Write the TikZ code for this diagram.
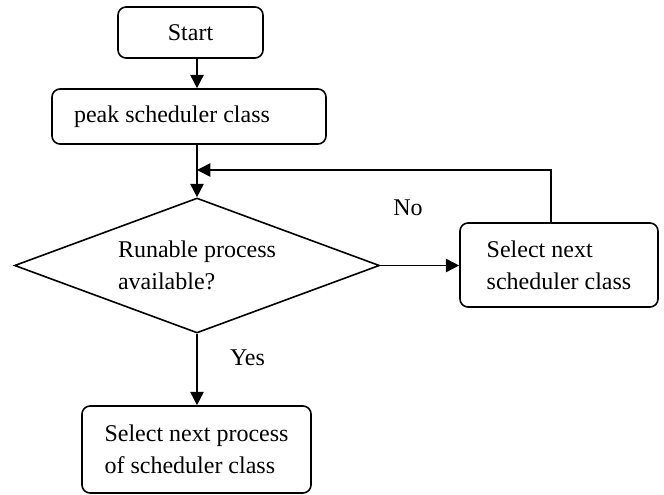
\documentclass[tikz,border=0pt]{standalone}
\usepackage{fontspec}
\setmainfont{Liberation Serif}
\usepackage{tikz}
\usetikzlibrary{
    shapes.geometric,
    arrows.meta,
    calc
}
\tikzset{
    % Base style for all nodes
    flow base/.style={
        font=\fontsize{18}{24}\selectfont,
        draw=black,
        line width=1.2pt,
        inner ysep=0pt,
    },
    % Rounded boxes with centred text
    startbox/.style={
        flow base,
        rectangle,
        rounded corners=6pt,
        align=center,
    },
    % Rounded boxes with left aligned text
    procbox/.style={
        flow base,
        rectangle,
        rounded corners=6pt,
        align=flush left,
        inner xsep=16.5pt,
    },
    % Decision diamond
    decision/.style={
        flow base,
        diamond,
        aspect=2.7,
        inner sep=0pt,
        align=left,
    },
    % Arrow style
    arrow/.style={
        -{Triangle[length=10pt, width=10pt]},
        line width=1.2pt,
    },
    % Label style for Yes/No
    edge label/.style={
        font=\fontsize{18}{24}\selectfont,
        inner sep=0pt,
    },
}

\begin{document}
\begin{tikzpicture}[x=0.75pt, y=-0.75pt]
    \useasboundingbox (0,0) rectangle (664,495);

    \node (start) [startbox, minimum width=108.75pt, minimum height=38.25pt] at (190.5,32.5) {Start};
    \node (peak) [procbox, text width=172.5pt, minimum height=41.25pt] at (189,116.5) {peak scheduler class};
    \node (dec) [decision, minimum width=273.75pt, minimum height=101.25pt] at (197,265.5) {Runable process\\available?};
    \node (sel) [procbox, minimum width=148.5pt, minimum height=63pt] at (559,265) {Select next\\scheduler class};
    \node (proc) [procbox, minimum width=171.75pt, minimum height=65.25pt] at (196.5,449.5) {Select next process\\of scheduler class};
    \coordinate (merge) at (197,170);

    \draw [arrow] (start.south -| dec.north) -- (peak.north -| dec.north);
    \draw [line width=1.2pt] (peak.south -| dec.north) -- (merge);
    \draw [arrow] (merge) -- (dec.north);
    \draw [arrow] (dec.east) -- (sel.west |- dec.east);
    \draw [arrow] ([xshift=-6]sel.north) |- (merge);
    \draw [arrow] (dec.south) -- (proc.north -| dec.south);

    \node (no) [edge label] at (408,208) {No};
    \node (yes) [edge label] at (247.5,358) {Yes};
\end{tikzpicture}
\end{document}
